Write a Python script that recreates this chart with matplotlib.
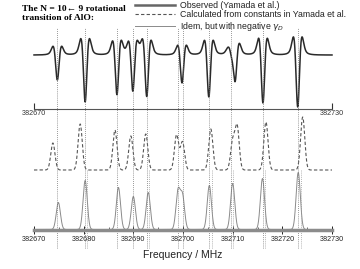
import numpy as np
import matplotlib.pyplot as plt
from matplotlib.ticker import MultipleLocator

# line positions (MHz) and strengths
obs_freq = [382674.7, 382680.3, 382686.7, 382689.9, 382692.7, 382699.8,
            382705.2, 382709.8, 382710.5, 382716.1, 382723.1]
obs_depth = [25, 47, 40, 37, 42, 28, 42, 12, 30, 48, 52]

calc_freq = [382673.8, 382679.3, 382686.3, 382689.5, 382692.5, 382698.7,
             382699.9, 382705.6, 382710.0, 382710.9, 382716.7, 382724.1]
calc_int = [27, 46, 40, 34, 36, 35, 28, 41, 28, 43, 48, 53]

neg_freq = [382674.9, 382680.3, 382687.0, 382690.0, 382693.0, 382699.0,
            382699.9, 382705.3, 382710.0, 382716.0, 382723.2]
neg_int = [27, 49, 42, 33, 37, 38, 33, 44, 46, 51, 57]

# dotted marker lines
mark_freq = [382674.6, 382680.3, 382686.7, 382689.9, 382692.7, 382699.0,
             382700.0, 382705.2, 382709.6, 382716.1, 382723.1]
mark2_freq = [382680.7, 382693.1, 382705.8, 382710.0, 382716.5, 382723.7]

f = np.linspace(382670, 382730, 4000)


def second_deriv(f0, a, s=0.5, g=0.9):
    # dip of depth a with side lobes: half gaussian, half lorentzian 2nd derivative
    u = (f - f0) / s
    gpart = (u ** 2 - 1) * np.exp(-u ** 2 / 2)
    v = (f - f0) / g
    lpart = 0.5 * (6 * v ** 2 - 2) / (1 + v ** 2) ** 3
    return a * (0.5 * gpart + 0.5 * lpart)


def gauss(f0, a, s=0.42):
    return a * np.exp(-0.5 * ((f - f0) / s) ** 2)


obs = sum(second_deriv(c, a) for c, a in zip(obs_freq, obs_depth))
calc = sum(gauss(c, a) for c, a in zip(calc_freq, calc_int))
neg = sum(gauss(c, a) for c, a in zip(neg_freq, neg_int))

fig = plt.figure(figsize=(3.6, 2.69), dpi=100)
W, H = 360, 269
x0, x1 = 34 / W, 332 / W

# top panel: observed
ax1 = fig.add_axes([x0, 1 - 109 / H, x1 - x0, 89 / H])
ax1.patch.set_visible(False)
ax1.set_xlim(382670, 382730)
ax1.set_ylim(-54, 35)
l_obs, = ax1.plot(f, obs, color="#2a2a2a", lw=1.1, clip_on=False,
                  label="Observed (Yamada et al.)")
for s in ["top", "left", "right"]:
    ax1.spines[s].set_visible(False)
ax1.spines["bottom"].set_color("#555555")
ax1.spines["bottom"].set_linewidth(0.8)
ax1.set_yticks([])
ax1.set_xticks([382670, 382730])
ax1.set_xticklabels(["382670", "382730"])
ax1.tick_params(axis="x", direction="in", length=4, width=0.8, pad=1,
                labelsize=5.2, colors="#333333")

# lower panel: calculated spectra
ax3 = fig.add_axes([x0, 1 - 229.5 / H, x1 - x0, 120.5 / H])
ax3.patch.set_visible(False)
ax3.set_xlim(382670, 382730)
ax3.set_ylim(0, 120.5)
l_calc, = ax3.plot(f, calc + 59.5, color="#555555", lw=0.8,
                   dashes=(3, 2), clip_on=False,
                   label="Calculated from constants in Yamada et al.")
l_neg, = ax3.plot(f, neg, color="#8a8a8a", lw=0.7, clip_on=False,
                  label=r"Idem, but with negative $\gamma_D$")
ax3.vlines(mark_freq, -18.5, 201.5, colors="#777777", lw=0.6,
           linestyles=(0, (1, 1.5)), clip_on=False)
ax3.vlines(mark2_freq, -18.5, 60, colors="#999999", lw=0.6,
           linestyles=(0, (1, 1.5)), clip_on=False)
for s in ["top", "left", "right"]:
    ax3.spines[s].set_visible(False)
ax3.spines["bottom"].set_color("#8c8c8c")
ax3.spines["bottom"].set_linewidth(2.5)
ax3.set_yticks([])
ax3.xaxis.set_major_locator(MultipleLocator(10))
ax3.xaxis.set_minor_locator(MultipleLocator(5))
ax3.xaxis.set_major_formatter(plt.FuncFormatter(lambda v, p: f"{v:.0f}"))
ax3.tick_params(axis="x", which="major", direction="inout", length=6,
                width=0.7, pad=2, labelsize=5.2, colors="#222222")
ax3.tick_params(axis="x", which="minor", direction="in", length=2.5,
                width=0.6, colors="#555555")
for t in ax3.get_xticklabels() + ax1.get_xticklabels():
    t.set_family("Liberation Sans")
ax3.set_xlabel("Frequency / MHz", family="Liberation Sans", fontsize=7.5,
               color="#222222", labelpad=5)

fig.text(22 / W, 1 - 5 / H, "The N = 10\u2190 9 rotational\ntransition of AlO:",
         family=["Liberation Serif", "DejaVu Serif"], weight="bold",
         fontsize=6.8, va="top", ha="left", linespacing=1.15)

leg = fig.legend(handles=[l_obs, l_calc, l_neg], loc="upper left",
                 bbox_to_anchor=(135 / W, 1 - 1.0 / H), frameon=False,
                 prop={"family": "Liberation Sans", "size": 6.3},
                 handlelength=4.6, handletextpad=0.55, labelspacing=0.05,
                 borderpad=0, borderaxespad=0)
leg.get_lines()[0].set_linewidth(1.8)
leg.get_lines()[0].set_color("#666666")
for t in leg.get_texts():
    t.set_color("#222222")

fig.savefig("out.png", dpi=100)
